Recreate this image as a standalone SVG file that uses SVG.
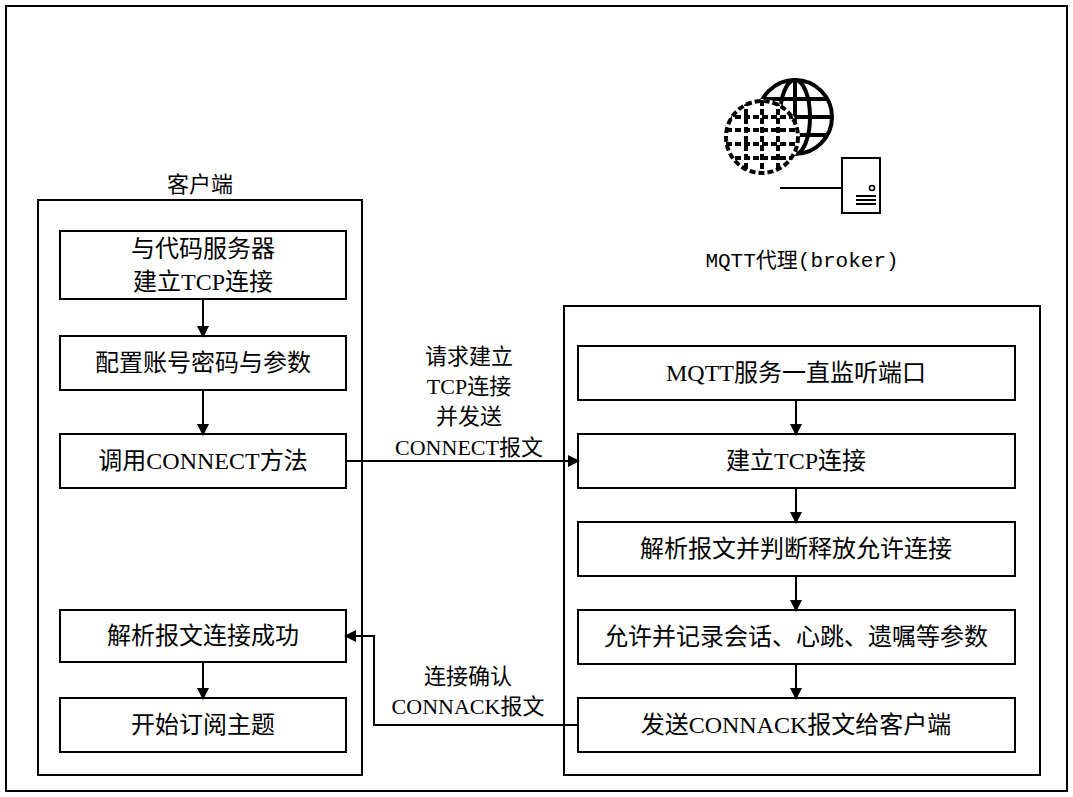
<svg xmlns="http://www.w3.org/2000/svg" width="1073" height="797" viewBox="0 0 1073 797">
<style>
.b{fill:#fff;stroke:#000;stroke-width:2}
.f{fill:none;stroke:#000;stroke-width:2}
.t{font-family:"Liberation Serif","Noto Sans CJK SC",serif;font-size:24px;text-anchor:middle;fill:#000}
.s{font-family:"Liberation Serif","Noto Sans CJK SC",serif;font-size:22px;text-anchor:middle;fill:#000}
.m{font-family:"Liberation Mono","Noto Sans CJK SC",monospace;font-size:21px;text-anchor:middle;fill:#000}
.l{stroke:#000;stroke-width:2;fill:none}
</style>
<defs>
<marker id="a" markerWidth="12" markerHeight="12" refX="10" refY="6" orient="auto" markerUnits="userSpaceOnUse"><path d="M0,0L12,6L0,12Z" fill="#000"/></marker>
<clipPath id="gc"><circle cx="762" cy="137" r="37"/></clipPath>
</defs>
<rect x="0" y="0" width="1073" height="797" fill="#fff"/>
<rect x="6" y="6" width="1061" height="785" class="f"/>
<g id="icon">
<g fill="none" stroke="#000" stroke-width="4">
<circle cx="795" cy="117" r="37"/>
<ellipse cx="795" cy="117" rx="15" ry="37"/>
<line x1="795" y1="80" x2="795" y2="154"/>
<line x1="758" y1="117" x2="832" y2="117"/>
<line x1="763" y1="99" x2="827" y2="99"/>
<line x1="763" y1="135" x2="827" y2="135"/>
</g>
<circle cx="762" cy="137" r="38" fill="#fff"/>
<g fill="none" stroke="#000" stroke-width="4" stroke-dasharray="6,3">
<circle cx="762" cy="137" r="36"/>
<g clip-path="url(#gc)">
<line x1="726" y1="117" x2="798" y2="117"/><line x1="726" y1="130" x2="798" y2="130"/><line x1="726" y1="144" x2="798" y2="144"/><line x1="726" y1="158" x2="798" y2="158"/>
<line x1="746" y1="100" x2="746" y2="174"/><line x1="762" y1="100" x2="762" y2="174"/><line x1="778" y1="100" x2="778" y2="174"/>
</g>
</g>
<line x1="780" y1="188" x2="842" y2="188" stroke="#000" stroke-width="2"/>
<rect x="842" y="158" width="38" height="55" class="b"/>
<circle cx="872" cy="188" r="2.5" fill="none" stroke="#000" stroke-width="1.5"/>
<g stroke="#000" stroke-width="2"><line x1="856" y1="196" x2="876" y2="196"/><line x1="856" y1="200" x2="876" y2="200"/><line x1="856" y1="204" x2="876" y2="204"/></g>
</g>
<g id="client">
<rect x="38" y="200" width="324" height="575" class="f"/>
<text x="200" y="192" class="s">客户端</text>
</g>
<g id="broker">
<rect x="564" y="306" width="476" height="469" class="f"/>
<text x="802" y="267" class="m">MQTT代理(broker)</text>
</g>
<g id="c1"><rect x="60" y="231" width="286" height="68" class="b"/><text x="203" y="257" class="t">与代码服务器</text><text x="203" y="290" class="t">建立TCP连接</text></g>
<g id="c2"><rect x="60" y="336" width="286" height="54" class="b"/><text x="203" y="371" class="t">配置账号密码与参数</text></g>
<g id="c3"><rect x="60" y="434" width="286" height="54" class="b"/><text x="203" y="469" class="t">调用CONNECT方法</text></g>
<g id="c4"><rect x="60" y="610" width="286" height="52" class="b"/><text x="203" y="644" class="t">解析报文连接成功</text></g>
<g id="c5"><rect x="60" y="698" width="286" height="54" class="b"/><text x="203" y="733" class="t">开始订阅主题</text></g>
<g id="b1"><rect x="578" y="346" width="437" height="54" class="b"/><text x="796" y="381" class="t">MQTT服务一直监听端口</text></g>
<g id="b2"><rect x="578" y="434" width="437" height="54" class="b"/><text x="796" y="469" class="t">建立TCP连接</text></g>
<g id="b3"><rect x="578" y="522" width="437" height="54" class="b"/><text x="796" y="557" class="t">解析报文并判断释放允许连接</text></g>
<g id="b4"><rect x="578" y="610" width="437" height="54" class="b"/><text x="796" y="645" class="t">允许并记录会话、心跳、遗嘱等参数</text></g>
<g id="b5"><rect x="578" y="698" width="437" height="54" class="b"/><text x="796" y="733" class="t">发送CONNACK报文给客户端</text></g>
<g id="connectors">
<line x1="203" y1="299" x2="203" y2="336" class="l" marker-end="url(#a)"/>
<line x1="203" y1="390" x2="203" y2="434" class="l" marker-end="url(#a)"/>
<line x1="203" y1="662" x2="203" y2="698" class="l" marker-end="url(#a)"/>
<line x1="796" y1="400" x2="796" y2="434" class="l" marker-end="url(#a)"/>
<line x1="796" y1="488" x2="796" y2="522" class="l" marker-end="url(#a)"/>
<line x1="796" y1="576" x2="796" y2="610" class="l" marker-end="url(#a)"/>
<line x1="796" y1="664" x2="796" y2="698" class="l" marker-end="url(#a)"/>
<line x1="346" y1="461" x2="578" y2="461" class="l" marker-end="url(#a)"/>
<polyline points="578,725 374,725 374,636 346,636" class="l" marker-end="url(#a)"/>
<text x="469" y="364" class="s">请求建立</text>
<text x="469" y="394" class="s">TCP连接</text>
<text x="469" y="424" class="s">并发送</text>
<text x="469" y="455" class="s">CONNECT报文</text>
<text x="468" y="684" class="s">连接确认</text>
<text x="468" y="714" class="s">CONNACK报文</text>
</g>
</svg>
